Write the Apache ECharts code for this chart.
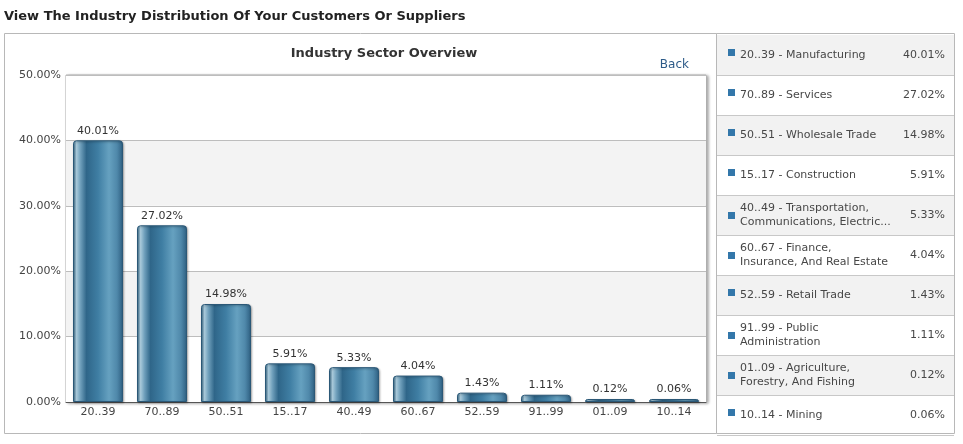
<!DOCTYPE html>
<html><head><meta charset="utf-8">
<script src="https://cdn.jsdelivr.net/npm/echarts@6/dist/echarts.min.js"></script>
<style>html,body{margin:0;padding:0;background:#fff}#c{width:963px;height:444px}</style>
</head><body><div id="c"></div>
<script>
const codes = ['20..39','70..89','50..51','15..17','40..49','60..67','52..59','91..99','01..09','10..14'];
const sectorNames = ['Manufacturing','Services','Wholesale Trade','Construction','Transportation,\nCommunications, Electric...','Finance,\nInsurance, And Real Estate','Retail Trade','Public\nAdministration','Agriculture,\nForestry, And Fishing','Mining'];
const shares = [40.01,27.02,14.98,5.91,5.33,4.04,1.43,1.11,0.12,0.06];
const yTicks = [0,10,20,30,40,50];

const FONT = 'DejaVu Sans';
const chart = echarts.init(document.getElementById('c'));

const barGrad = new echarts.graphic.LinearGradient(0,0,1,0,[
  {offset:0,color:'#3d7393'},
  {offset:0.07,color:'#a9cadb'},
  {offset:0.15,color:'#6f9fbb'},
  {offset:0.27,color:'#2f6689'},
  {offset:0.5,color:'#3f7ea3'},
  {offset:0.72,color:'#66a1c0'},
  {offset:0.88,color:'#4f88aa'},
  {offset:1,color:'#2d5e80'}
]);

const graphics = [
  {type:'text',left:4,top:10,style:{text:'View The Industry Distribution Of Your Customers Or Suppliers',font:'bold 13px '+FONT,fill:'#222'}},
  {type:'rect',shape:{x:4.5,y:33.5,width:712,height:400},style:{fill:'none',stroke:'#b8b8b8',lineWidth:1},z:-10},
  {type:'rect',shape:{x:716.5,y:33.5,width:238,height:400},style:{fill:'none',stroke:'#b8b8b8',lineWidth:1},z:10},
  {type:'text',x:384,y:54,style:{text:'Industry Sector Overview',font:'bold 13px '+FONT,fill:'#333',align:'center',verticalAlign:'middle'}},
  {type:'text',x:689,y:65,style:{text:'Back',font:'12px '+FONT,fill:'#2c5a88',align:'right',verticalAlign:'middle'}}
];
codes.forEach((c,i)=>{
  const top = 35 + i*40;
  const cy = top + 20;
  graphics.push({type:'rect',shape:{x:717,y:top,width:237,height:40},style:{fill:i%2===0?'#f2f2f2':'#ffffff'},z:1});
  graphics.push({type:'line',shape:{x1:717,y1:top+40.5,x2:954,y2:top+40.5},style:{stroke:'#c8c8c8',lineWidth:1},z:2});
  const label = c+' - '+sectorNames[i];
  const twoLine = label.indexOf('\n')>=0;
  graphics.push({type:'rect',shape:{x:728,y:twoLine?cy-3:cy-6,width:7,height:7},style:{fill:'#3377aa'},z:3});
  graphics.push({type:'text',x:740,y:cy,style:{text:label,font:'11px '+FONT,fill:'#474747',verticalAlign:'middle',lineHeight:14},z:3});
  graphics.push({type:'text',x:945,y:cy,style:{text:shares[i].toFixed(2)+'%',font:'11px '+FONT,fill:'#474747',align:'right',verticalAlign:'middle'},z:3});
});

chart.setOption({
  animation:false,
  textStyle:{fontFamily:FONT},
  grid:{left:66,right:257,top:75,bottom:42,show:true,borderColor:'#b0b0b0',borderWidth:1,backgroundColor:'#fff',
        shadowColor:'rgba(0,0,0,0.35)',shadowBlur:3,shadowOffsetX:2,shadowOffsetY:1},
  xAxis:{type:'category',data:codes,
    axisLine:{show:true,lineStyle:{color:'#555',width:1}},
    axisTick:{show:false},
    axisLabel:{color:'#444',fontSize:11,margin:5,fontFamily:FONT}},
  yAxis:{type:'value',min:0,max:50,interval:10,
    axisLine:{show:false},axisTick:{show:false},
    axisLabel:{color:'#444',fontSize:11,margin:5,fontFamily:FONT,formatter:v=>v.toFixed(2)+'%'},
    splitLine:{show:true,lineStyle:{color:'#bdbdbd',width:1}},
    splitArea:{show:true,areaStyle:{color:['#ffffff','#f3f3f3']}}},
  series:[{type:'bar',data:shares,barWidth:50,barMinHeight:3,
    itemStyle:{color:barGrad,borderColor:'#2b5877',borderWidth:1,borderRadius:[3,3,0,0],
      shadowColor:'rgba(0,0,0,0.3)',shadowBlur:2,shadowOffsetX:1,shadowOffsetY:1},
    label:{show:true,position:'top',distance:4,color:'#333',fontSize:11,fontFamily:FONT,formatter:p=>p.value.toFixed(2)+'%'}}],
  graphic:graphics
});
</script></body></html>
